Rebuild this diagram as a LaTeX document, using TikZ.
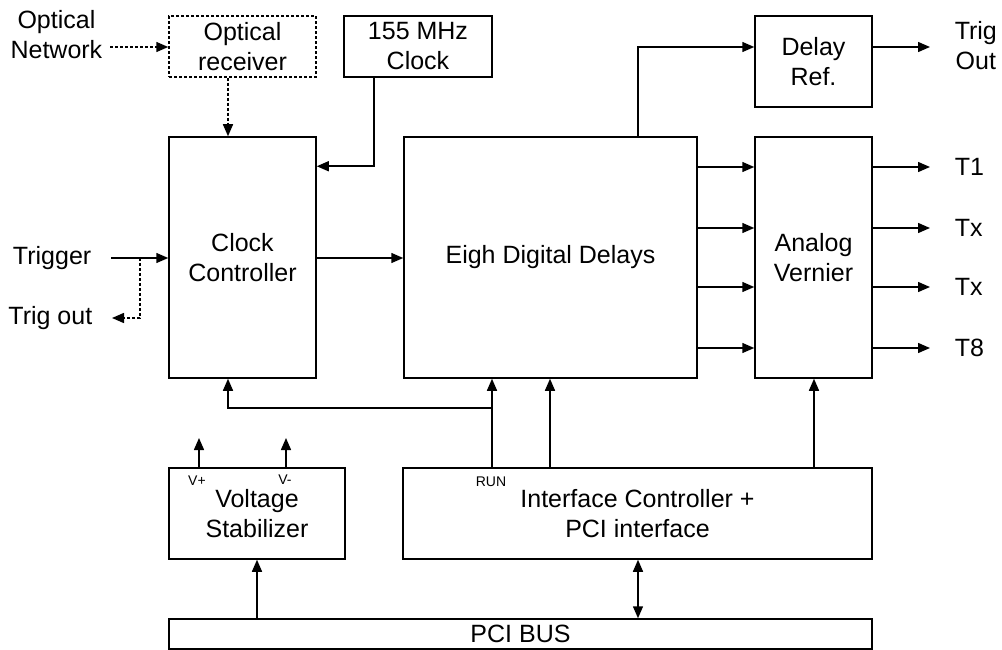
\documentclass[tikz,border=0pt]{standalone}
\usepackage{fontspec}
\setmainfont{Liberation Sans}
\usetikzlibrary{positioning,arrows.meta}

\begin{document}
\begin{tikzpicture}[x=1pt,y=-1pt,line width=1.5pt,
    >={Triangle[length=12pt,width=10pt]},
    block/.style={draw,rectangle,align=center,inner sep=3pt,font=\fontsize{25}{30}\selectfont},
    lbl/.style={align=center,inner sep=3pt,font=\fontsize{25}{30}\selectfont},
    tiny/.style={inner sep=0pt,font=\fontsize{14}{16}\selectfont},
    dsh/.style={dash pattern=on 3pt off 2pt}]
        \useasboundingbox (0,0) rectangle (1002,650);
        %% Blocks
        \node[block,dsh,minimum width=147pt,minimum height=61pt] (optrx) at (242.5,46.5) {Optical\\receiver};
        \node[block,minimum width=148pt,minimum height=61pt] (clk) at (418,46.5) {155 MHz\\Clock};
        \node[block,minimum width=147pt,minimum height=241pt] (ctrl) at (242.5,257.5) {Clock\\Controller};
        \node[block,minimum width=293pt,minimum height=241pt] (dly) at (550.5,257.5) {Eigh Digital Delays};
        \node[block,minimum width=117pt,minimum height=91pt] (ref) at (813.5,61.5) {Delay\\Ref.};
        \node[block,minimum width=117pt,minimum height=241pt] (vern) at (813.5,257.5) {Analog\\Vernier};
        \node[block,minimum width=176pt,minimum height=91pt] (stab) at (257,513.5) {Voltage\\Stabilizer};
        \node[block,minimum width=469pt,minimum height=91pt] (iface) at (637.5,513.5) {Interface Controller +\\PCI interface};
        \node[block,minimum width=703pt,minimum height=30pt] (bus) at (520.5,634) {PCI BUS};
        %% Small labels
        \node[tiny] (vplus) at (197,481) {V+};
        \node[tiny] (vminus) at (285,480) {V-};
        \node[tiny] (runlbl) at (491,482) {RUN};
        %% Outer labels
        \node[lbl,anchor=east] (optnet) at (106,35) {Optical\\Network};
        \node[lbl,anchor=east] (trigger) at (95,258) {Trigger};
        \node[lbl,anchor=east] (trigout) at (96,318) {Trig out};
        \node[lbl,anchor=west] (trigo) at (951,46) {Trig\\Out};
        %% Free ends
        \coordinate (netend) at (110,47);
        \coordinate (trigin) at (111,258);
        \coordinate (split) at (140,258);
        \coordinate (trigoutend) at (112,318);
        \coordinate (trigoend) at (930,47);
        \coordinate (vp) at (199,438);
        \coordinate (vm) at (286,438);
        \coordinate (run) at (492,408);
        \coordinate (cfg) at (550,408);
        \coordinate (vctl) at (814,408);
        \coordinate (pci) at (638,590);
        %% Optical path
        \draw[dsh,->] (netend) -- (netend -| optrx.west);
        \draw[dsh,->] ([xshift=-14.5pt]optrx.south) -- ([xshift=-14.5pt]ctrl.north);
        %% Trigger
        \draw[->] (trigin) -- (trigin -| ctrl.west);
        \draw[dsh,->] (split) |- (trigoutend);
        %% Clock
        \draw[->] ([xshift=-44pt]clk.south) |- ([yshift=-30pt]ctrl.north east);
        \draw[->] (trigin -| ctrl.east) -- (trigin -| dly.west);
        %% Delay reference
        \draw[->] ([xshift=87.5pt]dly.north) |- ([yshift=14.5pt]ref.west);
        \draw[->] ([yshift=14.5pt]ref.east) -- (trigoend);
        %% Channels
        \foreach \y/\name/\txt in {167/ta/T1,228/tb/Tx,287/tc/Tx,348/td/T8}{
            \coordinate (\name) at (930,\y);
            \draw[->] (dly.east |- \name) -- (vern.west |- \name);
            \draw[->] (vern.east |- \name) -- (\name);
            \node[lbl,anchor=west] (\name lbl) at (951,\y) {\txt};
        }
        %% Control lines
        \draw[->] (iface.north -| run) -- (dly.south -| run);
        \draw[->] (run) -| ([xshift=-14.5pt]ctrl.south);
        \draw[->] (iface.north -| cfg) -- (dly.south -| cfg);
        \draw[->] (iface.north -| vctl) -- (vern.south -| vctl);
        %% Supplies
        \draw[->] (stab.north -| vp) -- (vp);
        \draw[->] (stab.north -| vm) -- (vm);
        \draw[->] (bus.north -| stab.south) -- (stab.south);
        \draw[<->] (iface.south -| pci) -- (bus.north -| pci);
\end{tikzpicture}
\end{document}
